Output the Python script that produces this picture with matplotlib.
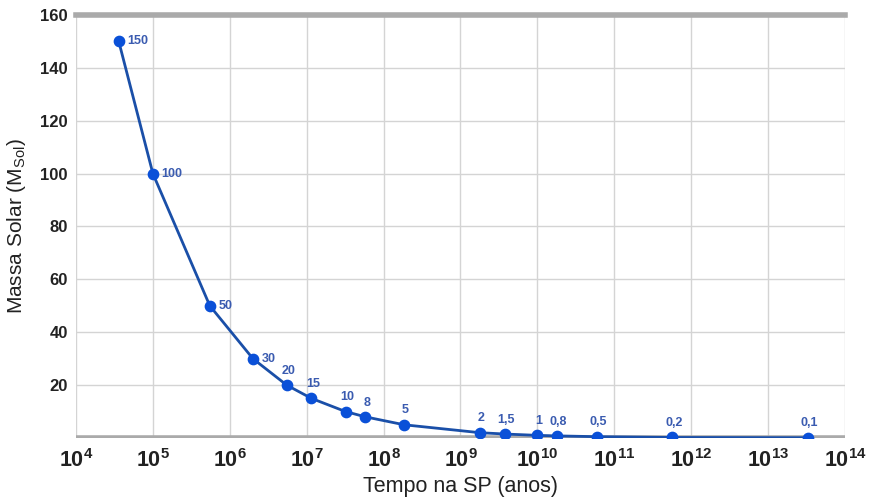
import numpy as np
import matplotlib
matplotlib.use('Agg')
import matplotlib.pyplot as plt

plt.rcParams['font.family'] = ['Liberation Sans', 'DejaVu Sans']
plt.rcParams['mathtext.fontset'] = 'custom'
plt.rcParams['mathtext.rm'] = 'Liberation Sans'
plt.rcParams['mathtext.bf'] = 'Liberation Sans:bold'

# tempo na sequencia principal (anos) e massa (M_sol)
tempo = [3.6e4, 1.0e5, 5.5e5, 2.0e6, 5.5e6, 1.15e7, 3.2e7, 5.8e7, 1.85e8,
         1.8e9, 3.8e9, 1.0e10, 1.8e10, 5.9e10, 5.7e11, 3.3e13]
massa = [150, 100, 50, 30, 20, 15, 10, 8, 5, 2, 1.5, 1, 0.8, 0.5, 0.2, 0.1]
rotulos = ['150', '100', '50', '30', '20', '15', '10', '8', '5',
           '2', '1,5', '1', '0,8', '0,5', '0,2', '0,1']
expoentes = list(range(4, 15))
yticks = [20, 40, 60, 80, 100, 120, 140, 160]

def main():
    fig = plt.figure(figsize=(8.7, 4.97), dpi=100)
    ax = fig.add_axes([76/870, 1-438/497, (845-76)/870, (438-15)/497])
    ax.set_xscale('log')
    ax.set_xlim(1e4, 1e14)
    ax.set_ylim(0, 160)

    for s in ax.spines.values():
        s.set_visible(False)
    ax.axhline(0, color='#aaaaaa', lw=4, zorder=1)
    ax.axhline(160, color='#aaaaaa', lw=4, zorder=1, clip_on=False)

    ax.set_xticks([10.0**e for e in expoentes])
    ax.set_xticklabels([r'$\mathbf{10^{%d}}$' % e for e in expoentes],
                       fontsize=15.5, color='#222222')
    ax.xaxis.set_minor_locator(matplotlib.ticker.NullLocator())
    ax.set_yticks(yticks)
    ax.set_yticklabels([str(v) for v in yticks], fontsize=12,
                       fontweight='bold', color='#222222')
    ax.tick_params(length=0, pad=6)
    ax.tick_params(axis='x', pad=8)
    ax.grid(True, color='#d4d4d4', lw=1)
    ax.set_axisbelow(True)

    ax.plot(tempo, massa, color='#1a4fa8', lw=2, zorder=3)
    ax.scatter(tempo, massa, s=55, color='#0a50d8', zorder=4)
    for x, y, r in zip(tempo, massa, rotulos):
        if y >= 30:
            ax.annotate(r, (x, y), xytext=(6, 0), textcoords='offset points',
                        ha='left', va='center', fontsize=9, fontweight='bold',
                        color='#3a5bb0')
        else:
            ax.annotate(r, (x, y), xytext=(1, 6), textcoords='offset points',
                        ha='center', va='bottom', fontsize=9, fontweight='bold',
                        color='#3a5bb0')

    ax.set_xlabel('Tempo na SP (anos)', fontsize=15.5, color='#222222', labelpad=3)
    ax.set_ylabel(r'Massa Solar (M$_{\mathrm{Sol}}$)', fontsize=15,
                  color='#222222', labelpad=9)
    fig.savefig('out.png', dpi=100)

if __name__ == '__main__':
    main()
